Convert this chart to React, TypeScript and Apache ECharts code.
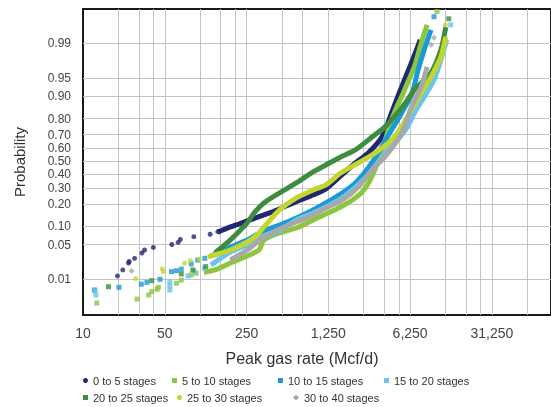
import React, { useEffect, useRef } from 'react';
import * as echarts from 'echarts';

const categories = [
  '0 to 5 stages',
  '5 to 10 stages',
  '10 to 15 stages',
  '15 to 20 stages',
  '20 to 25 stages',
  '25 to 30 stages',
  '30 to 40 stages',
];

// [peak gas rate (Mcf/d), cumulative probability]
const navyTail = [[19.7,0.0119],[21.9,0.0161],[24.5,0.0225],[24.8,0.0241],[27.6,0.0279],[31.9,0.0353],[33.6,0.0402],[39.9,0.0447],[57.4,0.0505],[65.0,0.0548],[67.9,0.0616],[88.5,0.0686],[122,0.0751],[142,0.0826]];
const navyBody = [[142,0.0813],[182,0.0977],[253,0.1196],[352,0.145],[479,0.1736],[666,0.213],[926,0.2533],[1190,0.2925],[1591,0.3859],[2127,0.4864],[2735,0.5647],[3586,0.684],[4436,0.844],[5081,0.914],[5819,0.9556],[6660,0.9791],[7629,0.9916]];

const limeTail = [[13.1,0.0026],[29.0,0.0033],[36.4,0.0042],[38.7,0.0051],[42.9,0.0058],[44.1,0.0065],[62.9,0.0081],[69.2,0.0096],[84.0,0.0125],[92.6,0.0136],[10598,0.9984]];
const limeBody = [[108,0.0142],[134,0.0161],[182,0.0225],[253,0.031],[319,0.0402],[352,0.0605],[479,0.0788],[666,0.0943],[926,0.1236],[1190,0.1494],[1591,0.1838],[2007,0.2228],[2436,0.2725],[2843,0.3561],[3254,0.4709],[3656,0.6036],[4027,0.7183],[4436,0.8087],[4890,0.8665],[5281,0.8976],[5931,0.9386],[6791,0.9685],[7778,0.9901],[8734,0.9964]];

const blueTail = [[12.5,0.0056],[20.3,0.0065],[31.5,0.0077],[35.2,0.0085],[45.5,0.010],[57.1,0.0148],[62.9,0.0155],[69.2,0.0168],[84.0,0.0215],[95.6,0.0258],[110,0.0279],[10000,0.9978]];
const blueBody = [[124,0.031],[182,0.0456],[253,0.0605],[352,0.0856],[479,0.1046],[666,0.1314],[926,0.1685],[1190,0.2055],[1591,0.2594],[2127,0.3343],[2735,0.4472],[3450,0.5878],[4186,0.7116],[4890,0.7922],[5596,0.8533],[6531,0.9109],[7196,0.9592],[8241,0.9859],[9436,0.9952]];

const lightTail = [[12.9,0.0042],[12.7,0.0053],[55.2,0.0087],[55.2,0.0070],[55.2,0.0056],[78.8,0.0119],[89.5,0.0148],[109,0.0175],[13900,0.9964],[15200,0.99866]];
const lightBody = [[124,0.0205],[182,0.0369],[253,0.0495],[352,0.0688],[479,0.0858],[666,0.1236],[926,0.1541],[1190,0.1838],[1591,0.2288],[2007,0.2857],[2581,0.3709],[3319,0.4864],[4027,0.5878],[4890,0.6628],[5931,0.7505],[6791,0.8295],[8241,0.8976],[10000,0.9455],[11451,0.9771],[12853,0.9916]];

const greenTail = [[16.5,0.0067],[38.7,0.0093],[69.2,0.0132],[86.8,0.0161],[112,0.0189],[13373,0.9975]];
const greenBody = [[134,0.0353],[182,0.0605],[253,0.112],[290,0.1541],[352,0.2055],[479,0.266],[666,0.3343],[926,0.4164],[1190,0.4709],[1591,0.5339],[2127,0.5878],[2955,0.684],[3800,0.7505],[4890,0.8295],[5931,0.8865],[6791,0.92],[7778,0.9386],[9436,0.9592],[11451,0.9859],[12613,0.9959]];

const yellowTail = [[28.2,0.0104],[47.5,0.017],[48.6,0.0148],[73.8,0.0222],[82.9,0.025],[98.6,0.0267],[12500,0.9964]];
const yellowBody = [[117,0.0297],[134,0.0324],[182,0.0402],[253,0.0558],[307,0.0731],[352,0.0977],[479,0.1685],[666,0.2348],[926,0.2857],[1190,0.3203],[1591,0.4087],[2254,0.4864],[3132,0.5647],[4352,0.6628],[5281,0.7505],[6408,0.844],[7778,0.9109],[9436,0.9518],[11451,0.9801],[12613,0.9929]];

const grayTail = [[26.0,0.0153],[9436,0.9891],[10000,0.9925]];
const grayBody = [[182,0.0258],[253,0.0402],[352,0.0679],[479,0.091],[666,0.1159],[926,0.145],[1190,0.1785],[1654,0.2228],[2254,0.3062],[2955,0.4321],[3800,0.5339],[4890,0.6628],[5596,0.7505],[6408,0.8577],[7778,0.9285],[8734,0.9685]];

const xLabelValues = [10, 50, 250, 1250, 6250, 31250];
const xGridValues = [20, 30, 40, 50, 100, 150, 200, 250, 500, 750, 1250, 2500, 3750, 5000, 6250, 12500, 18750, 25000, 31250, 62500];
const yLabelValues = [0.01, 0.05, 0.10, 0.20, 0.30, 0.40, 0.50, 0.60, 0.70, 0.80, 0.90, 0.95, 0.99];

const tails = [navyTail, limeTail, blueTail, lightTail, greenTail, yellowTail, grayTail];
const bodies = [navyBody, limeBody, blueBody, lightBody, greenBody, yellowBody, grayBody];
const colors = ['#1f2870', '#8cc63e', '#1a9ad6', '#6cc4ea', '#3d8c3f', '#c3d62d', '#a8a8a8'];
const icons = ['circle', 'rect', 'rect', 'rect', 'rect', 'circle', 'diamond'];
const legendPos = [[83, 375], [172, 375], [278, 375], [384, 375], [83, 392], [177, 392], [293, 392]];

// inverse standard normal CDF (Acklam)
function probit(p: number): number {
  const a = [-3.969683028665376e1, 2.209460984245205e2, -2.759285104469687e2, 1.38357751867269e2, -3.066479806614716e1, 2.506628277459239];
  const b = [-5.447609879822406e1, 1.615858368580409e2, -1.556989798598866e2, 6.680131188771972e1, -1.328068155288572e1];
  const c = [-7.784894002430293e-3, -3.223964580411365e-1, -2.400758277161838, -2.549732539343734, 4.374664141464968, 2.938163982698783];
  const d = [7.784695709041462e-3, 3.224671290700398e-1, 2.445134137142996, 3.754408661907416];
  const pl = 0.02425;
  if (p < pl) {
    const q = Math.sqrt(-2 * Math.log(p));
    return (((((c[0] * q + c[1]) * q + c[2]) * q + c[3]) * q + c[4]) * q + c[5]) / ((((d[0] * q + d[1]) * q + d[2]) * q + d[3]) * q + 1);
  }
  if (p > 1 - pl) {
    const q = Math.sqrt(-2 * Math.log(1 - p));
    return -(((((c[0] * q + c[1]) * q + c[2]) * q + c[3]) * q + c[4]) * q + c[5]) / ((((d[0] * q + d[1]) * q + d[2]) * q + d[3]) * q + 1);
  }
  const q = p - 0.5;
  const r = q * q;
  return (((((a[0] * r + a[1]) * r + a[2]) * r + a[3]) * r + a[4]) * r + a[5]) * q / (((((b[0] * r + b[1]) * r + b[2]) * r + b[3]) * r + b[4]) * r + 1);
}

const toXY = (arr: number[][]) => arr.map(([r, p]) => [Math.log10(r), probit(p)]);

const FONT = "'Liberation Sans', Arial, sans-serif";

export default function App() {
  const ref = useRef<HTMLDivElement>(null);
  useEffect(() => {
    if (!ref.current) return;
    const chart = echarts.init(ref.current, undefined, { renderer: 'svg' });
    const series: any[] = [];
    categories.forEach((name, i) => {
      series.push({
        name,
        type: 'line',
        data: toXY(bodies[i]),
        symbol: 'none',
        showSymbol: false,
        smooth: 0.25,
        lineStyle: { width: 5, color: colors[i] },
        itemStyle: { color: colors[i] },
        z: 2,
      });
      series.push({
        name,
        type: 'scatter',
        data: toXY(tails[i]),
        symbol: icons[i],
        symbolSize: icons[i] === 'diamond' ? 6 : 5,
        itemStyle: { color: colors[i] },
        z: 3,
      });
    });
    const yProbits = yLabelValues.map(probit);
    chart.setOption({
      animation: false,
      textStyle: { fontFamily: FONT },
      grid: {
        left: 83, top: 9, right: -8, bottom: 92,
        show: true, borderColor: '#1a1a1a', borderWidth: 2,
      },
      xAxis: {
        type: 'value',
        min: 1, max: 5,
        name: 'Peak gas rate (Mcf/d)',
        nameLocation: 'middle',
        nameGap: 35,
        nameTextStyle: { fontSize: 16, color: '#333', fontFamily: FONT, padding: [0, 30, 0, 0] },
        axisLine: { show: false },
        axisTick: { show: false, customValues: xGridValues.map((v) => Math.log10(v)) },
        splitLine: { show: true, lineStyle: { color: '#c4c4c4', width: 1 } },
        axisLabel: {
          customValues: xLabelValues.map((v) => Math.log10(v)),
          formatter: (v: number) => Math.round(Math.pow(10, v)).toLocaleString('en-US'),
          fontSize: 14, color: '#444', fontFamily: FONT, margin: 11,
        },
      },
      yAxis: {
        type: 'value',
        min: -3.03, max: 3.0,
        name: 'Probability',
        nameLocation: 'middle',
        nameGap: 56,
        nameTextStyle: { fontSize: 15, color: '#333', fontFamily: FONT },
        axisLine: { show: false },
        axisTick: { show: false, customValues: yProbits },
        splitLine: { show: true, lineStyle: { color: '#c4c4c4', width: 1 } },
        axisLabel: {
          customValues: yProbits,
          formatter: (v: number) => {
            let best = yLabelValues[0];
            let bd = Infinity;
            yLabelValues.forEach((p) => {
              const dd = Math.abs(probit(p) - v);
              if (dd < bd) { bd = dd; best = p; }
            });
            return best.toFixed(2);
          },
          fontSize: 12, lineHeight: 11, color: '#444', fontFamily: FONT, margin: 12,
        },
      },
      legend: categories.map((name, i) => ({
        data: [{ name, icon: icons[i] }],
        left: legendPos[i][0],
        top: legendPos[i][1],
        padding: 0,
        itemGap: 0,
        itemWidth: icons[i] === 'diamond' ? 6 : 5,
        itemHeight: icons[i] === 'diamond' ? 6 : 5,
        selectedMode: false,
        textStyle: { fontSize: 11, color: '#333', fontFamily: FONT },
      })),
      series,
    });
    return () => chart.dispose();
  }, []);
  return <div ref={ref} style={{ position: 'fixed', left: 0, top: 0, width: 551, height: 407 }} />;
}
